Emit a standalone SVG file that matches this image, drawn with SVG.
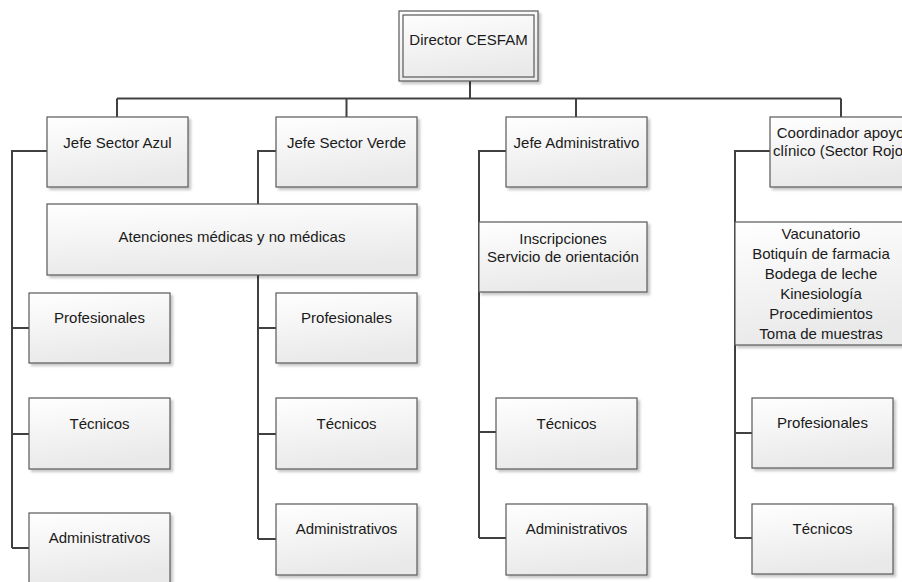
<svg xmlns="http://www.w3.org/2000/svg" width="902" height="582" viewBox="0 0 902 582">
<style>
.box{fill:url(#g);stroke:#595959;stroke-width:1.2;filter:url(#sh)}
.c{fill:none;stroke:#404040;stroke-width:2}
text{font-family:"Liberation Sans",Arial,sans-serif;font-size:15px;fill:#1a1a1a;text-anchor:middle}
</style>
<defs>
<linearGradient id="g" x1="0" y1="0" x2="0.25" y2="1">
<stop offset="0" stop-color="#ffffff"/>
<stop offset="1" stop-color="#e9e9e9"/>
</linearGradient>
<filter id="sh" x="-10%" y="-10%" width="130%" height="140%">
<feDropShadow dx="2.5" dy="2.5" stdDeviation="1" flood-color="#000" flood-opacity="0.22"/>
</filter>
</defs>
<rect width="902" height="582" fill="#ffffff"/>
<g id="connectors">
<path class="c" d="M470,81 V98.5 M117,98.5 H841 M117,98.5 V117 M346.5,98.5 V117 M576,98.5 V117 M841,98.5 V117"/>
<path class="c" d="M47,151 H12 V548 M12,328 H29 M12,434 H29 M12,548 H29"/>
<path class="c" d="M276,151 H258 V539 M258,328 H276 M258,434 H276 M258,539 H276"/>
<path class="c" d="M506,151 H479 V538 M479,432 H496 M479,538 H506"/>
<path class="c" d="M770,151 H735 V538 M735,433 H752 M735,538 H752"/>
</g>
<g id="director">
<rect class="box" x="399" y="11" width="139" height="70"/>
<rect x="403" y="15" width="131" height="62" fill="none" stroke="#595959" stroke-width="1.2"/>
<text x="468.5" y="44.5">Director CESFAM</text>
</g>
<g id="jefe-azul"><rect class="box" x="47" y="117" width="141" height="70"/><text x="117.5" y="147.5">Jefe Sector Azul</text></g>
<g id="jefe-verde"><rect class="box" x="276" y="117" width="141" height="70"/><text x="346.5" y="147.5">Jefe Sector Verde</text></g>
<g id="jefe-adm"><rect class="box" x="506" y="117" width="141" height="70"/><text x="576.5" y="147.5">Jefe Administrativo</text></g>
<g id="coordinador"><rect class="box" x="770" y="117" width="141" height="70"/><text x="840.5" y="137.5">Coordinador apoyo</text><text x="840.5" y="156">clínico (Sector Rojo)</text></g>
<g id="atenciones"><rect class="box" x="47" y="204" width="370" height="71"/><text x="232" y="242">Atenciones médicas y no médicas</text></g>
<g id="inscripciones"><rect class="box" x="479" y="222" width="168" height="70"/><text x="563" y="243.5">Inscripciones</text><text x="563" y="262">Servicio de orientación</text></g>
<g id="vacunatorio"><rect class="box" x="735" y="222" width="172" height="123"/>
<text x="821" y="238.5">Vacunatorio</text><text x="821" y="258.5">Botiquín de farmacia</text><text x="821" y="278.5">Bodega de leche</text><text x="821" y="298.5">Kinesiología</text><text x="821" y="318.5">Procedimientos</text><text x="821" y="338.5">Toma de muestras</text></g>
<g id="azul-prof"><rect class="box" x="29" y="293" width="141" height="70"/><text x="99.5" y="323">Profesionales</text></g>
<g id="azul-tec"><rect class="box" x="29" y="398" width="141" height="71"/><text x="99.5" y="429">Técnicos</text></g>
<g id="azul-adm"><rect class="box" x="29" y="513" width="141" height="70"/><text x="99.5" y="543">Administrativos</text></g>
<g id="verde-prof"><rect class="box" x="276" y="293" width="141" height="70"/><text x="346.5" y="323">Profesionales</text></g>
<g id="verde-tec"><rect class="box" x="276" y="398" width="141" height="71"/><text x="346.5" y="429">Técnicos</text></g>
<g id="verde-adm"><rect class="box" x="276" y="504" width="141" height="71"/><text x="346.5" y="534">Administrativos</text></g>
<g id="adm-tec"><rect class="box" x="496" y="398" width="141" height="71"/><text x="566.5" y="429">Técnicos</text></g>
<g id="adm-adm"><rect class="box" x="506" y="504" width="141" height="71"/><text x="576.5" y="534">Administrativos</text></g>
<g id="rojo-prof"><rect class="box" x="752" y="398" width="141" height="70"/><text x="822.5" y="428">Profesionales</text></g>
<g id="rojo-tec"><rect class="box" x="752" y="504" width="141" height="70"/><text x="822.5" y="534">Técnicos</text></g>
</svg>
